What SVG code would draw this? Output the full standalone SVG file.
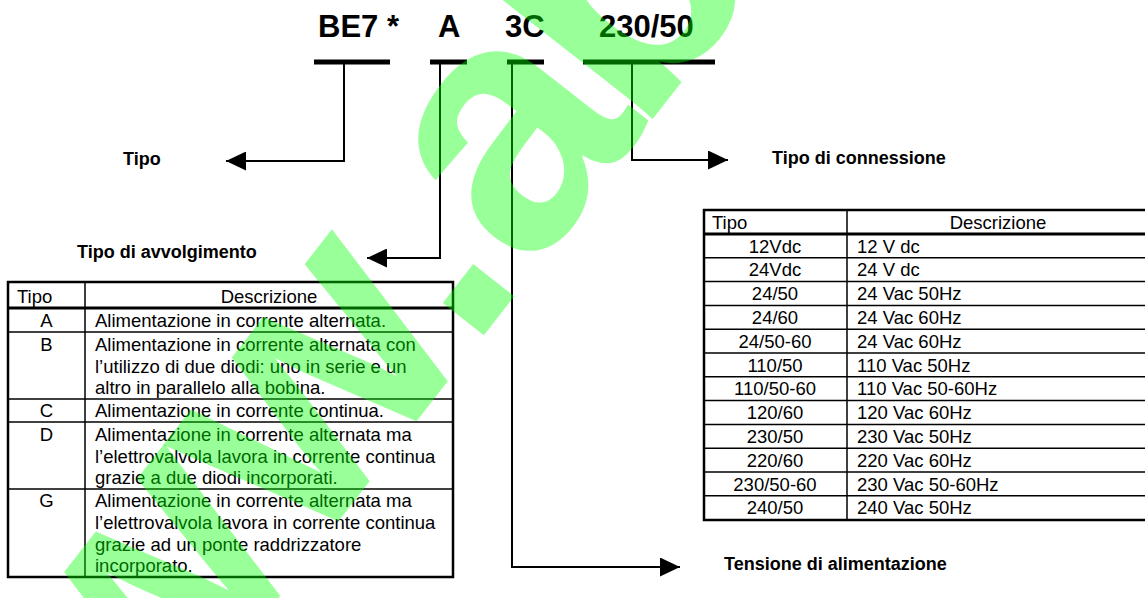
<svg xmlns="http://www.w3.org/2000/svg" width="1145" height="598" viewBox="0 0 1145 598">
<style>
.code{font-family:"Liberation Sans",Arial,sans-serif;font-weight:bold;font-size:31px;fill:#000}
.lbl{font-family:"Liberation Sans",Arial,sans-serif;font-weight:bold;font-size:18px;fill:#000}
.t{font-family:"Liberation Sans",Arial,sans-serif;font-size:18.5px;fill:#000}
.c{text-anchor:middle}
.bar{stroke:#000;stroke-width:5;fill:none}
.conn{stroke:#000;stroke-width:2;fill:none}
.grid{stroke:#000;stroke-width:1.5;fill:none}
.thick{stroke:#000;stroke-width:3;fill:none}
.wm{font-family:"Liberation Sans",Arial,sans-serif;font-weight:bold;font-size:350px;fill:#00ff00;fill-opacity:0.4}
</style>
<defs>
<marker id="ah" markerWidth="20" markerHeight="19" refX="20" refY="9.5" orient="auto" markerUnits="userSpaceOnUse">
<path d="M0,0 L20,9.5 L0,19 Z" fill="#000"/>
</marker>
</defs>
<rect width="1145" height="598" fill="#fff"/>

<g id="code">
<text class="code" x="318" y="37">BE7 *</text>
<text class="code" x="438" y="37">A</text>
<text class="code" x="505" y="37">3C</text>
<text class="code" x="599" y="37">230/50</text>
<line class="bar" x1="314" y1="62" x2="390" y2="62"/>
<line class="bar" x1="430" y1="62" x2="467" y2="62"/>
<line class="bar" x1="507" y1="62" x2="544" y2="62"/>
<line class="bar" x1="583" y1="62" x2="715" y2="62"/>
</g>

<g id="connectors">
<polyline class="conn" points="344,64 344,161 226,161" marker-end="url(#ah)"/>
<polyline class="conn" points="440,64 440,258 367,258" marker-end="url(#ah)"/>
<polyline class="conn" points="512,64 512,567 680,567" marker-end="url(#ah)"/>
<polyline class="conn" points="632,64 632,160 728,160" marker-end="url(#ah)"/>
</g>

<g id="label-tipo"><text class="lbl" x="123" y="165">Tipo</text></g>
<g id="label-avvolgimento"><text class="lbl" x="77" y="258">Tipo di avvolgimento</text></g>
<g id="label-connessione"><text class="lbl" x="772" y="164">Tipo di connessione</text></g>
<g id="label-tensione"><text class="lbl" x="724" y="570">Tensione di alimentazione</text></g>

<g id="table-avvolgimento">
<line class="grid" x1="85" y1="282" x2="85" y2="577"/>
<line class="thick" x1="8" y1="308" x2="453" y2="308"/>
<line class="grid" x1="8" y1="332" x2="453" y2="332"/>
<line class="grid" x1="8" y1="399" x2="453" y2="399"/>
<line class="grid" x1="8" y1="422" x2="453" y2="422"/>
<line class="grid" x1="8" y1="489" x2="453" y2="489"/>
<rect x="8" y="282" width="445" height="295" fill="none" stroke="#000" stroke-width="2.5"/>
<text class="t" x="17" y="303">Tipo</text>
<text class="t c" x="269" y="303">Descrizione</text>
<text class="t c" x="46.5" y="327">A</text>
<text class="t" x="95" y="327">Alimentazione in corrente alternata.</text>
<text class="t c" x="46.5" y="351">B</text>
<text class="t" x="95" y="351">Alimentazione in corrente alternata con</text>
<text class="t" x="95" y="373">l’utilizzo di due diodi: uno in serie e un</text>
<text class="t" x="95" y="394">altro in parallelo alla bobina.</text>
<text class="t c" x="46.5" y="417">C</text>
<text class="t" x="95" y="417">Alimentazione in corrente continua.</text>
<text class="t c" x="46.5" y="441">D</text>
<text class="t" x="95" y="441">Alimentazione in corrente alternata ma</text>
<text class="t" x="95" y="463">l’elettrovalvola lavora in corrente continua</text>
<text class="t" x="95" y="484">grazie a due diodi incorporati.</text>
<text class="t c" x="46.5" y="507">G</text>
<text class="t" x="95" y="507">Alimentazione in corrente alternata ma</text>
<text class="t" x="95" y="529">l’elettrovalvola lavora in corrente continua</text>
<text class="t" x="95" y="551">grazie ad un ponte raddrizzatore</text>
<text class="t" x="95" y="572">incorporato.</text>
</g>

<g id="table-connessione">
<line class="grid" x1="847" y1="210" x2="847" y2="520"/>
<line class="thick" x1="704" y1="234" x2="1149" y2="234"/>
<line class="grid" x1="704" y1="257.8" x2="1149" y2="257.8"/>
<line class="grid" x1="704" y1="281.6" x2="1149" y2="281.6"/>
<line class="grid" x1="704" y1="305.4" x2="1149" y2="305.4"/>
<line class="grid" x1="704" y1="329.2" x2="1149" y2="329.2"/>
<line class="grid" x1="704" y1="353" x2="1149" y2="353"/>
<line class="grid" x1="704" y1="376.8" x2="1149" y2="376.8"/>
<line class="grid" x1="704" y1="400.6" x2="1149" y2="400.6"/>
<line class="grid" x1="704" y1="424.4" x2="1149" y2="424.4"/>
<line class="grid" x1="704" y1="448.2" x2="1149" y2="448.2"/>
<line class="grid" x1="704" y1="472" x2="1149" y2="472"/>
<line class="grid" x1="704" y1="495.8" x2="1149" y2="495.8"/>
<rect x="704" y="210" width="445" height="310" fill="none" stroke="#000" stroke-width="2.5"/>
<text class="t" x="712" y="229">Tipo</text>
<text class="t c" x="998" y="229">Descrizione</text>
<text class="t c" x="775" y="252.5">12Vdc</text><text class="t" x="857" y="252.5">12 V dc</text>
<text class="t c" x="775" y="276.3">24Vdc</text><text class="t" x="857" y="276.3">24 V dc</text>
<text class="t c" x="775" y="300.1">24/50</text><text class="t" x="857" y="300.1">24 Vac 50Hz</text>
<text class="t c" x="775" y="323.9">24/60</text><text class="t" x="857" y="323.9">24 Vac 60Hz</text>
<text class="t c" x="775" y="347.7">24/50-60</text><text class="t" x="857" y="347.7">24 Vac 60Hz</text>
<text class="t c" x="775" y="371.5">110/50</text><text class="t" x="857" y="371.5">110 Vac 50Hz</text>
<text class="t c" x="775" y="395.3">110/50-60</text><text class="t" x="857" y="395.3">110 Vac 50-60Hz</text>
<text class="t c" x="775" y="419.1">120/60</text><text class="t" x="857" y="419.1">120 Vac 60Hz</text>
<text class="t c" x="775" y="442.9">230/50</text><text class="t" x="857" y="442.9">230 Vac 50Hz</text>
<text class="t c" x="775" y="466.7">220/60</text><text class="t" x="857" y="466.7">220 Vac 60Hz</text>
<text class="t c" x="775" y="490.5">230/50-60</text><text class="t" x="857" y="490.5">230 Vac 50-60Hz</text>
<text class="t c" x="775" y="514.3">240/50</text><text class="t" x="857" y="514.3">240 Vac 50Hz</text>
</g>

<g id="watermark">
<text class="wm" transform="translate(-25.6,987.2) rotate(-52)">www.a<tspan dx="-17">b</tspan></text>
</g>
</svg>
